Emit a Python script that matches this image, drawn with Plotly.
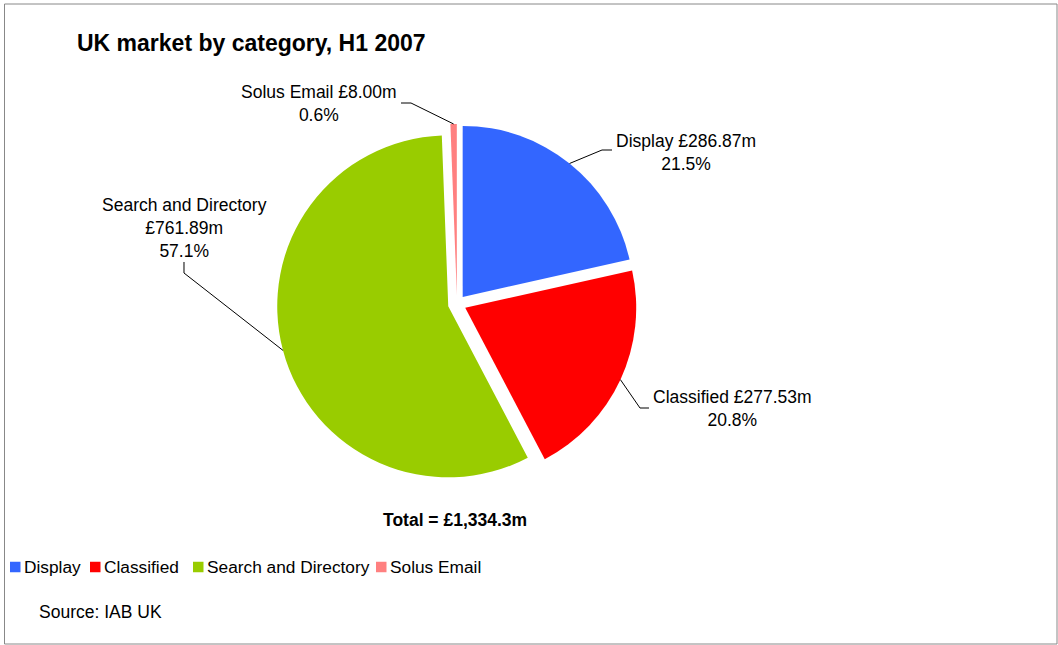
import math
import plotly.graph_objects as go

# UK online advertising market by category, H1 2007 (GBP millions)
categories = ["Display", "Classified", "Search and Directory", "Solus Email"]
spend_gbp_m = [286.87, 277.53, 761.89, 8.00]
share_pct = [21.5, 20.8, 57.1, 0.6]
colors = ["#3366FF", "#FF0000", "#99CC00", "#FF8080"]
total_label = "Total = £1,334.3m"

W, H = 1058, 645
FONT = "Liberation Sans, Arial, Helvetica, sans-serif"

# pie geometry (pixels)
CX, CY = 457, 304
RADIUS = 171
PULL = 0.053
half = RADIUS * (1 + PULL)


def px_x(x):
    return x / W


def px_y(y):
    return 1 - y / H


fig = go.Figure(
    go.Pie(
        labels=categories,
        values=spend_gbp_m,
        sort=False,
        direction="clockwise",
        rotation=0,
        pull=[PULL] * len(categories),
        marker=dict(colors=colors, line=dict(width=0)),
        textinfo="none",
        hoverinfo="label+value+percent",
        domain=dict(
            x=[px_x(CX - half), px_x(CX + half)],
            y=[px_y(CY + half), px_y(CY - half)],
        ),
    )
)

# label text for each slice
label_texts = [
    f"Display £{spend_gbp_m[0]:.2f}m<br>{share_pct[0]:.1f}%",
    f"Classified £{spend_gbp_m[1]:.2f}m<br>{share_pct[1]:.1f}%",
    f"Search and Directory<br>£{spend_gbp_m[2]:.2f}m<br>{share_pct[2]:.1f}%",
    f"Solus Email £{spend_gbp_m[3]:.2f}m<br>{share_pct[3]:.1f}%",
]
# per-slice leader line layout: bend point, line end, label anchor (pixels)
label_layout = [
    dict(bend=(602, 150), end=(612, 150), pos=(614, 152), xanchor="left"),
    dict(bend=(640, 408), end=(649, 408), pos=(651, 409), xanchor="left"),
    dict(bend=(184, 273), end=(184, 262), pos=(184, 228), xanchor="center"),
    dict(bend=(411, 103), end=(401, 103), pos=(399, 103), xanchor="right"),
]

total = sum(spend_gbp_m)
cum = 0.0
shapes = []
annotations = []
for val, txt, lay in zip(spend_gbp_m, label_texts, label_layout):
    theta = 2 * math.pi * (cum + val / 2) / total
    cum += val
    # outer edge of the pulled slice along its mid-angle
    ex = CX + half * math.sin(theta)
    ey = CY - half * math.cos(theta)
    pts = [(ex, ey), lay["bend"], lay["end"]]
    path = "M " + " L ".join(f"{px_x(x):.5f},{px_y(y):.5f}" for x, y in pts)
    shapes.append(dict(type="path", xref="paper", yref="paper", path=path,
                       line=dict(color="black", width=1)))
    annotations.append(dict(
        text=txt, xref="paper", yref="paper",
        x=px_x(lay["pos"][0]), y=px_y(lay["pos"][1]),
        xanchor=lay["xanchor"], yanchor="middle", align="center",
        showarrow=False, font=dict(size=17.5, color="black", family=FONT),
    ))

# compact single-row key under the pie: swatch left edges (pixels)
key_x = [10, 90, 193, 376]
KEY_Y, SWATCH = 567, 10.5
for name, col, kx in zip(categories, colors, key_x):
    shapes.append(dict(type="rect", xref="paper", yref="paper",
                       x0=px_x(kx), x1=px_x(kx + SWATCH),
                       y0=px_y(KEY_Y + SWATCH / 2), y1=px_y(KEY_Y - SWATCH / 2),
                       fillcolor=col, line=dict(width=0)))
    annotations.append(dict(
        text=name, xref="paper", yref="paper",
        x=px_x(kx + SWATCH + 1), y=px_y(KEY_Y), xanchor="left", yanchor="middle",
        showarrow=False, font=dict(size=17.3, color="black", family=FONT),
    ))

annotations.append(dict(
    text=f"<b>{total_label}</b>", xref="paper", yref="paper",
    x=px_x(455), y=px_y(520), xanchor="center", yanchor="middle",
    showarrow=False, font=dict(size=17.5, color="black", family=FONT),
))
annotations.append(dict(
    text="Source: IAB UK", xref="paper", yref="paper",
    x=px_x(37), y=px_y(612), xanchor="left", yanchor="middle",
    showarrow=False, font=dict(size=17.5, color="black", family=FONT),
))

# chart border
shapes.append(dict(type="rect", xref="paper", yref="paper",
                   x0=px_x(4.5), x1=px_x(1057), y0=px_y(644), y1=px_y(4),
                   line=dict(color="#888888", width=1)))

fig.update_layout(
    width=W, height=H,
    margin=dict(l=0, r=0, t=0, b=0, autoexpand=False),
    paper_bgcolor="white",
    plot_bgcolor="white",
    font=dict(family=FONT, color="black"),
    title=dict(
        text="<b>UK market by category, H1 2007</b>",
        x=px_x(77), xanchor="left", y=px_y(43), yanchor="middle",
        font=dict(size=23, color="black", family=FONT),
    ),
    showlegend=False,
    shapes=shapes,
    annotations=annotations,
)

fig.write_html("out.html")
